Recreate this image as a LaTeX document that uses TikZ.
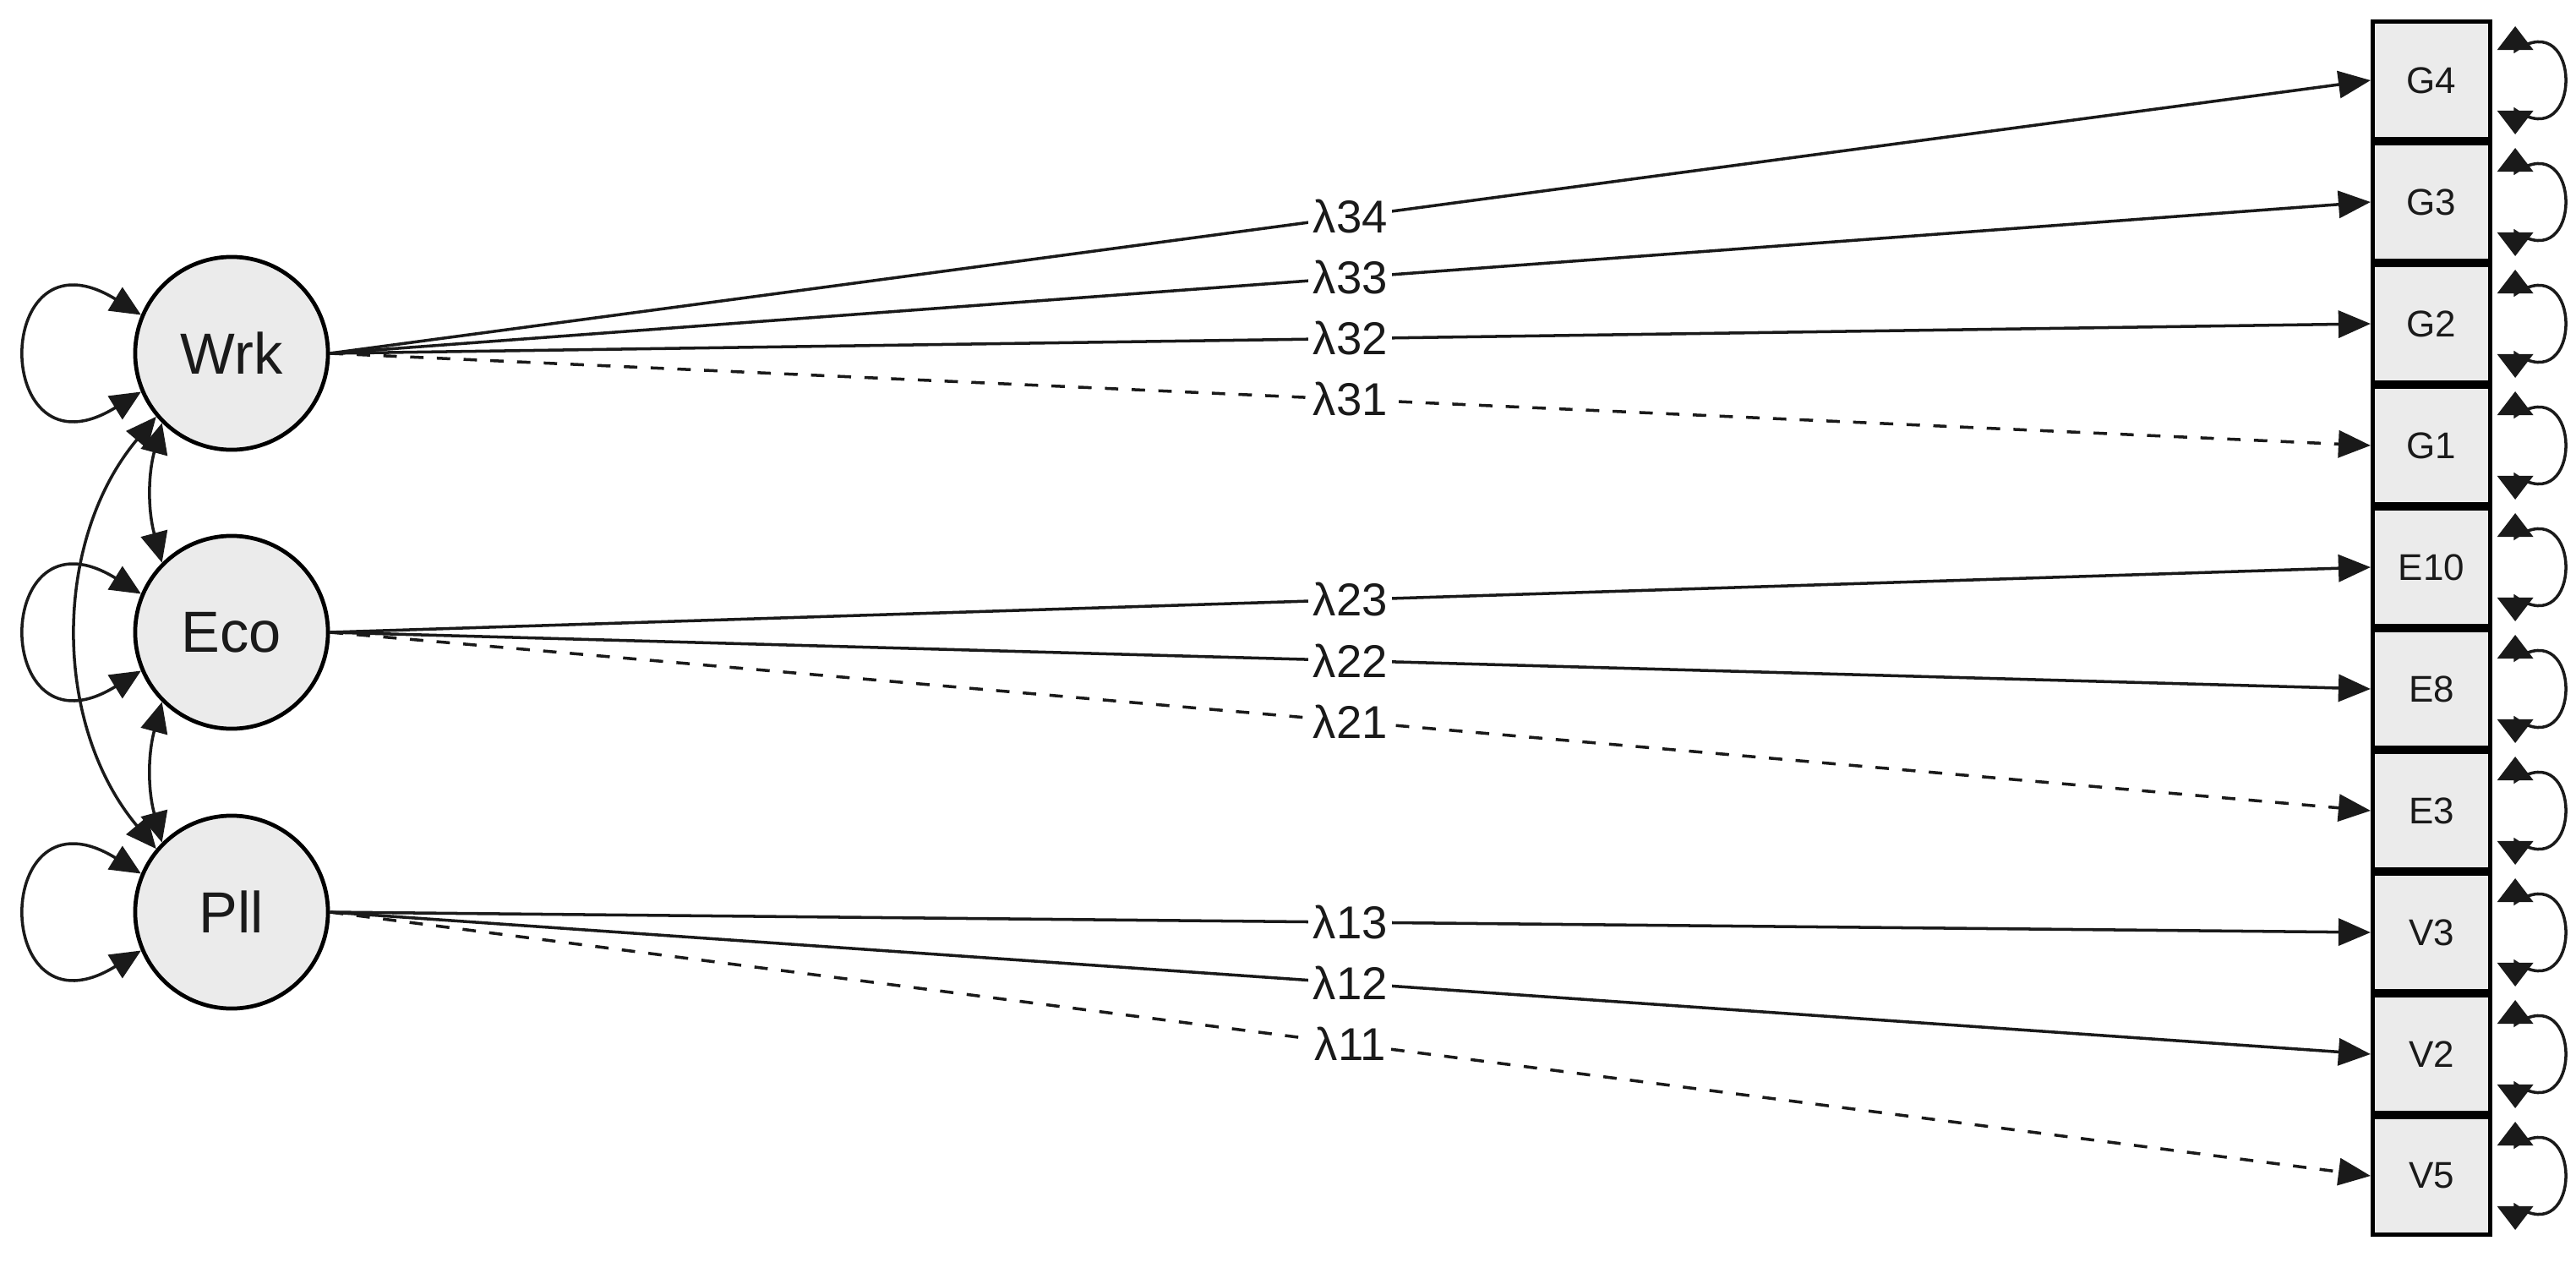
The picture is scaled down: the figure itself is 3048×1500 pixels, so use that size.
\documentclass[tikz,border=0pt]{standalone}
\usepackage{fontspec}
\setmainfont{Liberation Sans}
\usetikzlibrary{arrows.meta,calc}
\definecolor{latfill}{HTML}{EBEBEB}
\definecolor{ink}{HTML}{1A1A1A}
\begin{document}
\begin{tikzpicture}[x=0.01cm,y=-0.01cm,
  lat/.style={circle, draw=black, line width=1.35pt, fill=latfill, minimum size=2.28cm, inner sep=0pt, text=ink, font=\fontsize{19.5}{20}\selectfont},
  obs/.style={rectangle, draw=black, line width=1.45pt, fill=latfill, minimum width=1.39cm, minimum height=1.39cm, inner sep=0pt, text=ink, font=\fontsize{12.5}{13}\selectfont},
  loading/.style={draw=ink, line width=1pt, -{Triangle[length=0.38cm,width=0.32cm]}},
  fixedload/.style={loading, dash pattern=on 4.5pt off 4.5pt},
  lab/.style={fill=white, inner sep=1.5pt, text=ink, font=\fontsize{15.5}{16}\selectfont},
  dbl/.style={draw=ink, line width=1pt, {Triangle[length=0.36cm,width=0.32cm]}-{Triangle[length=0.36cm,width=0.32cm]}},
  resid/.style={draw=ink, line width=1pt, {Triangle[length=0.28cm,width=0.42cm]}-{Triangle[length=0.28cm,width=0.42cm]}}
]
\useasboundingbox (0,0) rectangle (3048,1500);

% latent variables
\node[lat] (Wrk) at (274,418) {Wrk};
\node[lat] (Eco) at (274,748) {Eco};
\node[lat] (Pll) at (274,1079) {Pll};

% observed variables with residual loops
\foreach \n/\y in {G4/95, G3/239, G2/383, G1/527, E10/671, E8/815, E3/959, V3/1103, V2/1247, V5/1391} {
  \node[obs] (\n) at (2877,\y) {\n};
  \draw[resid] ($(\n.east)+(27,-64)$) -- ($(\n.east)+(27,-35)$)
     .. controls ($(\n.east)+(107,-90)$) and ($(\n.east)+(107,90)$) ..
     ($(\n.east)+(27,35)$) -- ($(\n.east)+(27,64)$);
}

% variance loops on latent variables
\foreach \n in {Wrk,Eco,Pll} {
  \draw[dbl] (\n.157) .. controls ($(\n.157)+(-178,-110)$) and ($(\n.203)+(-178,110)$) .. (\n.203);
}

% covariances
\draw[dbl] (Wrk.225) to[bend right=15] (Eco.135);
\draw[dbl] (Eco.225) to[bend right=15] (Pll.135);
\draw[dbl] (Wrk.220) .. controls ($(Wrk.220)+(-123,147)$) and ($(Pll.140)+(-123,-147)$) .. (Pll.140);

% loadings
\draw[loading] (Wrk.east) -- node[lab] {λ34} (G4.west);
\draw[loading] (Wrk.east) -- node[lab] {λ33} (G3.west);
\draw[loading] (Wrk.east) -- node[lab] {λ32} (G2.west);
\draw[fixedload] (Wrk.east) -- node[lab] {λ31} (G1.west);
\draw[loading] (Eco.east) -- node[lab] {λ23} (E10.west);
\draw[loading] (Eco.east) -- node[lab] {λ22} (E8.west);
\draw[fixedload] (Eco.east) -- node[lab] {λ21} (E3.west);
\draw[loading] (Pll.east) -- node[lab] {λ13} (V3.west);
\draw[loading] (Pll.east) -- node[lab] {λ12} (V2.west);
\draw[fixedload] (Pll.east) -- node[lab] {λ11} (V5.west);
\end{tikzpicture}
\end{document}
